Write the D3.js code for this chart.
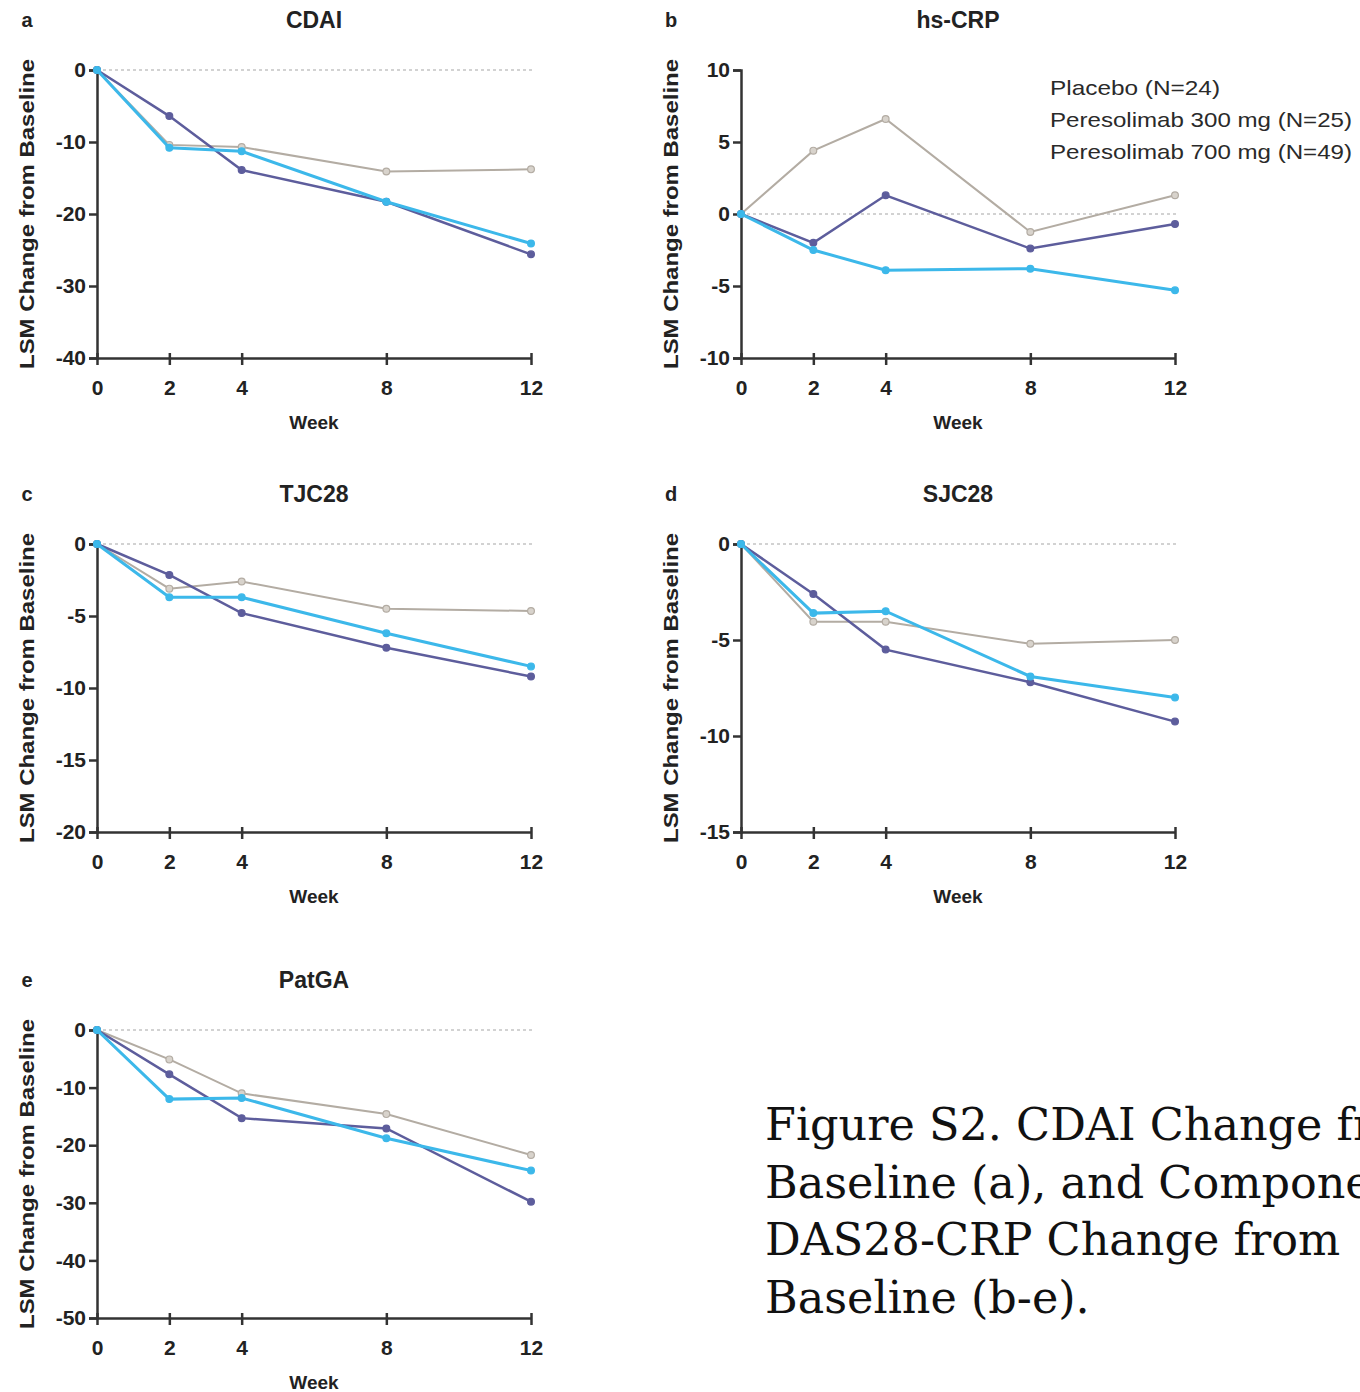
<!DOCTYPE html>
<html>
<head>
<meta charset="utf-8">
<script src="https://cdn.jsdelivr.net/npm/d3@7"></script>
<style>
  body { margin: 0; background: #fff; overflow: hidden; }
  svg { display: block; }
</style>
</head>
<body>
<svg width="1360" height="1392"></svg>
<script>
// weeks on the x axis
var weeks = [0, 2, 4, 8, 12];
var groupNames = ["Placebo (N=24)", "Peresolimab 300 mg (N=25)", "Peresolimab 700 mg (N=49)"];

// a: CDAI
var cdaiPlacebo = [0, -10.4, -10.7, -14.1, -13.8];
var cdai300 = [0, -6.4, -13.9, -18.3, -25.6];
var cdai700 = [0, -10.8, -11.3, -18.3, -24.1];
var cdaiTicks = [0, -10, -20, -30, -40];

// b: hs-CRP
var crpPlacebo = [0, 4.4, 6.6, -1.25, 1.3];
var crp300 = [0, -2.0, 1.3, -2.4, -0.7];
var crp700 = [0, -2.5, -3.9, -3.8, -5.3];
var crpTicks = [10, 5, 0, -5, -10];

// c: TJC28
var tjcPlacebo = [0, -3.1, -2.6, -4.5, -4.65];
var tjc300 = [0, -2.15, -4.8, -7.2, -9.2];
var tjc700 = [0, -3.7, -3.7, -6.2, -8.5];
var tjcTicks = [0, -5, -10, -15, -20];

// d: SJC28
var sjcPlacebo = [0, -4.05, -4.05, -5.2, -5.0];
var sjc300 = [0, -2.6, -5.5, -7.2, -9.25];
var sjc700 = [0, -3.6, -3.5, -6.9, -8.0];
var sjcTicks = [0, -5, -10, -15];

// e: PatGA
var pgaPlacebo = [0, -5.1, -11.0, -14.6, -21.7];
var pga300 = [0, -7.7, -15.3, -17.1, -29.8];
var pga700 = [0, -12.0, -11.8, -18.8, -24.4];
var pgaTicks = [0, -10, -20, -30, -40, -50];

var colors = ["#b3aca3", "#5d5d9c", "#3cb8ea"];
var widths = [2, 2.5, 3];

var panels = [
  {tag: "a", title: "CDAI",   left: 97,  top: 70,   ticks: cdaiTicks, series: [cdaiPlacebo, cdai300, cdai700]},
  {tag: "b", title: "hs-CRP", left: 741, top: 70,   ticks: crpTicks,  series: [crpPlacebo, crp300, crp700]},
  {tag: "c", title: "TJC28",  left: 97,  top: 544,  ticks: tjcTicks,  series: [tjcPlacebo, tjc300, tjc700]},
  {tag: "d", title: "SJC28",  left: 741, top: 544,  ticks: sjcTicks,  series: [sjcPlacebo, sjc300, sjc700]},
  {tag: "e", title: "PatGA",  left: 97,  top: 1030, ticks: pgaTicks,  series: [pgaPlacebo, pga300, pga700]}
];

var svg = d3.select('svg');
var width = 434, height = 288;
var sans = "Liberation Sans, Arial, sans-serif";

panels.forEach(function(p) {
  var g = svg.append('g')
    .attr('transform', 'translate(' + p.left + ',' + p.top + ')');

  var xScale = d3.scaleLinear().domain([0, 12]).range([0, width]);
  var yScale = d3.scaleLinear().domain([d3.min(p.ticks), d3.max(p.ticks)]).range([height, 0]);

  // dotted baseline at zero
  g.append('line')
    .attr('x1', 0).attr('x2', width + 4)
    .attr('y1', yScale(0)).attr('y2', yScale(0))
    .attr('stroke', '#c4c4c4').attr('stroke-width', 1.6)
    .attr('stroke-dasharray', '3,3');

  var yAxis = g.append('g')
    .call(d3.axisLeft(yScale).tickValues(p.ticks).tickSize(8).tickPadding(3).tickFormat(function(d) { return d; }));
  var xAxis = g.append('g')
    .attr('transform', 'translate(0,' + height + ')')
    .call(d3.axisBottom(xScale).tickValues(weeks).tickSize(7).tickPadding(15).tickSizeOuter(0).tickFormat(function(d) { return d; }));

  [yAxis, xAxis].forEach(function(ax) {
    ax.select('.domain').attr('stroke', '#333').attr('stroke-width', 2.5);
    ax.selectAll('.tick line').attr('stroke', '#333').attr('stroke-width', 2.5);
    ax.selectAll('.tick text')
      .attr('fill', '#222')
      .style('font-family', sans).style('font-weight', 'bold').style('font-size', '21px');
  });
  xAxis.selectAll('.tick line').attr('y1', -5);

  var line = d3.line()
    .x(function(d, i) { return xScale(weeks[i]); })
    .y(function(d) { return yScale(d); });

  p.series.forEach(function(values, k) {
    g.append('path')
      .datum(values)
      .attr('fill', 'none')
      .attr('stroke', colors[k])
      .attr('stroke-width', widths[k])
      .attr('d', line);
    g.selectAll('.m' + k).data(values)
      .enter().append('circle')
      .attr('class', 'm' + k)
      .attr('cx', function(d, i) { return xScale(weeks[i]); })
      .attr('cy', function(d) { return yScale(d); })
      .attr('r', 3.4)
      .attr('fill', k == 0 ? '#d8d3cc' : colors[k])
      .attr('stroke', colors[k]).attr('stroke-width', 1.2);
  });

  // title, panel tag, axis titles
  g.append('text')
    .attr('x', width / 2).attr('y', -50 + 8)
    .attr('text-anchor', 'middle')
    .style('font-family', sans).style('font-weight', 'bold').style('font-size', '23px')
    .attr('fill', '#222')
    .text(p.title);
  g.append('text')
    .attr('x', -70).attr('y', -50 + 7)
    .attr('text-anchor', 'middle')
    .style('font-family', sans).style('font-weight', 'bold').style('font-size', '20px')
    .attr('fill', '#222')
    .text(p.tag);
  g.append('text')
    .attr('x', width / 2).attr('y', height + 71)
    .attr('text-anchor', 'middle')
    .style('font-family', sans).style('font-weight', 'bold').style('font-size', '19px')
    .attr('fill', '#222')
    .text('Week');
  g.append('text')
    .attr('transform', 'translate(' + (-70 + 7) + ',' + (height / 2) + ') rotate(-90)')
    .attr('text-anchor', 'middle')
    .attr('textLength', 310).attr('lengthAdjust', 'spacingAndGlyphs')
    .style('font-family', sans).style('font-weight', 'bold').style('font-size', '21px')
    .attr('fill', '#222')
    .text('LSM Change from Baseline');
});

// legend (top right, no swatches)
svg.append('g').selectAll('text').data(groupNames)
  .enter().append('text')
  .attr('x', 1050)
  .attr('y', function(d, i) { return 95 + i * 32; })
  .attr('textLength', function(d, i) { return i == 0 ? 170 : 302; })
  .attr('lengthAdjust', 'spacingAndGlyphs')
  .style('font-family', sans).style('font-size', '21px')
  .attr('fill', '#2a2a2a')
  .text(function(d) { return d; });

// caption, runs off the right edge as in the source
var captionLines = ["Figure S2. CDAI Change from", "Baseline (a), and Components of", "DAS28-CRP Change from", "Baseline (b-e)."];
svg.append('g').selectAll('text').data(captionLines)
  .enter().append('text')
  .attr('x', 765)
  .attr('y', function(d, i) { return 1140 + i * 57.5; })
  .style('font-family', 'DejaVu Serif, serif').style('font-size', '44.5px')
  .attr('fill', '#111')
  .text(function(d) { return d; });
</script>
</body>
</html>
